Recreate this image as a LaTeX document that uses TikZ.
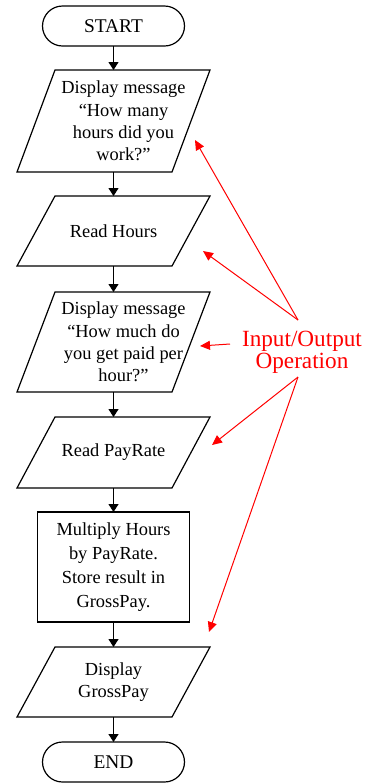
\documentclass[tikz,border=0pt]{standalone}
\usepackage{fontspec}
\setmainfont{Liberation Serif}
\usetikzlibrary{arrows.meta,positioning,calc}
\usepackage{xcolor}
\definecolor{note}{HTML}{FF0000}
\tikzset{
  base/.style={align=center, inner sep=0pt, outer sep=0pt,
               font=\fontsize{9.2}{11.1}\selectfont},
  term/.style={base, draw, line width=0.6pt, rounded corners=10pt,
               minimum width=71pt, minimum height=20pt,
               font=\fontsize{9.7}{11.2}\selectfont},
  proc/.style={base, draw, line width=0.6pt, minimum width=76pt,
               minimum height=55pt, font=\fontsize{9.2}{12}\selectfont},
  io/.style={base, minimum width=77.5pt, minimum height=#1,
             append after command={\pgfextra{
               \draw[line width=0.6pt]
                 ([xshift=-9.5pt]\tikzlastnode.south west) --
                 ([xshift=9.5pt]\tikzlastnode.north west) --
                 ([xshift=9.5pt]\tikzlastnode.north east) --
                 ([xshift=-9.5pt]\tikzlastnode.south east) -- cycle;}}},
  iotext/.style={base, xshift=5pt},
  flow/.style={-{Triangle[length=4pt,width=5pt]}, line width=0.6pt},
  noteline/.style={-{Triangle[length=5pt,width=4.5pt]}, line width=0.5pt, draw=note},
  lbl/.style={font=\fontsize{11.6}{10.8}\selectfont, color=note, align=center,
              inner sep=0pt}
}
\begin{document}
\begin{tikzpicture}[x=0.5pt,y=-0.5pt]
  \useasboundingbox (0,0) rectangle (367,783);

  \node[term] (start) at (113.5,26) {START};
  \node[io=51pt, label={[iotext]center:{Display message\\“How many\\hours did you\\work?”}}]
      (askhours) at (113.5,121) {};
  \node[io=35pt] (readhours) at (113.5,231) {Read Hours};
  \node[io=50pt, label={[iotext]center:{Display message\\“How much do\\you get paid per\\hour?”}}]
      (askrate) at (113.5,342) {};
  \node[io=35.5pt] (readrate) at (113.5,452.5) {Read PayRate};
  \node[proc] (mult) at (113.5,567)
      {Multiply Hours\\by PayRate.\\Store result in\\GrossPay.};
  \node[io=35pt] (showpay) at (113.5,682) {Display\\GrossPay};
  \node[term] (end) at (113.5,762) {END};

  \draw[flow] (start) -- (askhours);
  \draw[flow] (askhours) -- (readhours);
  \draw[flow] (readhours) -- (askrate);
  \draw[flow] (askrate) -- (readrate);
  \draw[flow] (readrate) -- (mult);
  \draw[flow] (mult) -- (showpay);
  \draw[flow] (showpay) -- (end);

  % callout
  \node[lbl] (iolbl) at (302,352) {Input/Output\\Operation};
  \coordinate (up) at (298,320);
  \coordinate (lo) at (298,377);
  \coordinate (mid) at (230,344);
  \coordinate (tip1) at (195,140);
  \coordinate (tip2) at (203,251);
  \coordinate (tip3) at (200,346);
  \coordinate (tip4) at (212,445);
  \coordinate (tip5) at (209,632);
  \draw[noteline] (up) -- (tip1);
  \draw[noteline] (up) -- (tip2);
  \draw[noteline] (mid) -- (tip3);
  \draw[noteline] (lo) -- (tip4);
  \draw[noteline] (lo) -- (tip5);
\end{tikzpicture}
\end{document}
